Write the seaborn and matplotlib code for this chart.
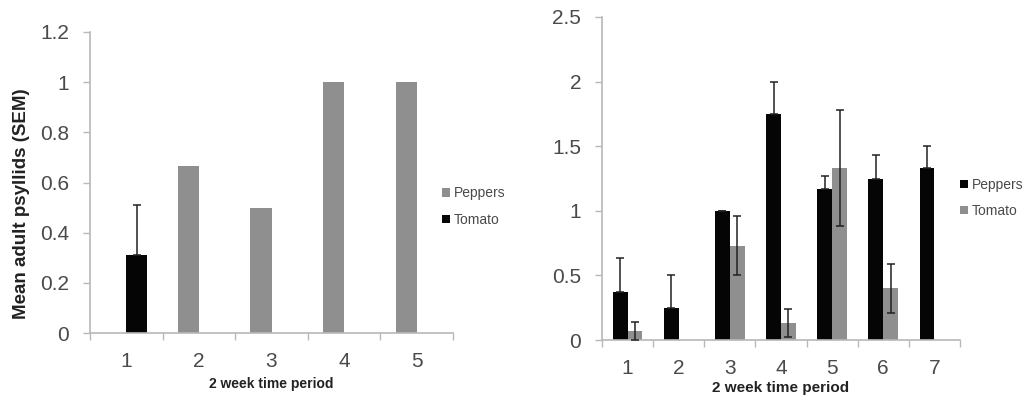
import numpy as np
import pandas as pd
import matplotlib
matplotlib.use("Agg")
import matplotlib.pyplot as plt
from matplotlib.ticker import FixedLocator, FuncFormatter
from matplotlib.colors import to_rgb
import seaborn as sns

# Mean adult psyllids per 2-week period, with SEM
series = ["Peppers", "Tomato"]

left_periods = ["1", "2", "3", "4", "5"]
left_peppers = [0.0, 0.667, 0.5, 1.0, 1.0]
left_peppers_sem = [np.nan, np.nan, np.nan, np.nan, np.nan]
left_tomato = [0.31, 0.0, 0.0, 0.0, 0.0]
left_tomato_sem = [0.2, np.nan, np.nan, np.nan, np.nan]
left_yticks = [0, 0.2, 0.4, 0.6, 0.8, 1.0, 1.2]

right_periods = ["1", "2", "3", "4", "5", "6", "7"]
right_peppers = [0.375, 0.25, 1.0, 1.75, 1.17, 1.25, 1.33]
right_peppers_sem = [0.26, 0.25, 0.0, 0.25, 0.10, 0.18, 0.17]
right_tomato = [0.07, 0.0, 0.73, 0.13, 1.33, 0.40, 0.0]
right_tomato_sem = [0.07, np.nan, 0.23, 0.11, 0.45, 0.19, np.nan]
right_yticks = [0, 0.5, 1.0, 1.5, 2.0, 2.5]

GRAY = "#8f8f8f"
BLACK = "#050505"
AXIS = "#b8b8b8"
TEXT = "#4a4a4a"

sns.set_theme(style="white")
plt.rcParams["font.family"] = ["Liberation Sans", "DejaVu Sans"]


def draw_panel(ax, periods, peppers, peppers_sem, tomato, tomato_sem,
               palette, yticks, ylabel, legend_x, legend_y, xlabel_size,
               xlabel_pad):
    df = pd.DataFrame({
        "period": periods * 2,
        "value": list(peppers) + list(tomato),
        "sem": list(peppers_sem) + list(tomato_sem),
        "series": [series[0]] * len(periods) + [series[1]] * len(periods),
    })
    sns.barplot(data=df, x="period", y="value", hue="series", order=periods,
                hue_order=series, palette=palette, width=0.58, saturation=1,
                errorbar=None, linewidth=0, ax=ax)

    # error bars placed on the bar centres computed by seaborn;
    # on dark bars only the upper arm shows
    for cont, name in zip(ax.containers, series):
        sub = df[df["series"] == name].reset_index(drop=True)
        dark = sum(to_rgb(palette[name])) < 0.5
        for patch, (_, row) in zip(cont.patches, sub.iterrows()):
            if np.isnan(row["sem"]) or row["value"] <= 0:
                continue
            xc = patch.get_x() + patch.get_width() / 2
            yerr = [[0.0], [row["sem"]]] if dark else row["sem"]
            ax.errorbar(xc, row["value"], yerr=yerr, fmt="none",
                        ecolor="#222222", elinewidth=1.1, capsize=3.2,
                        capthick=1.1, zorder=5)

    n = len(periods)
    ax.set_xlim(-0.5, n - 0.5)
    ax.set_ylim(0, yticks[-1])
    ax.yaxis.set_major_locator(FixedLocator(yticks))
    ax.yaxis.set_major_formatter(FuncFormatter(lambda v, _: f"{v:g}"))
    ax.xaxis.set_minor_locator(FixedLocator(np.arange(-0.5, n, 1.0)))
    ax.tick_params(axis="x", which="major", length=0, pad=14,
                   labelsize=15, labelcolor=TEXT)
    ax.tick_params(axis="x", which="minor", length=5, width=1, color=AXIS,
                   direction="out", bottom=True)
    ax.tick_params(axis="y", length=5, width=1, color=AXIS, direction="out",
                   left=True, labelsize=15, labelcolor=TEXT, pad=10)
    for side in ("top", "right"):
        ax.spines[side].set_visible(False)
    for side in ("left", "bottom"):
        ax.spines[side].set_color(AXIS)
        ax.spines[side].set_linewidth(1.2)

    ax.set_xlabel("2 week time period", fontsize=xlabel_size,
                  fontweight="bold", color="#222222", labelpad=xlabel_pad)
    ax.set_ylabel(ylabel, fontsize=13.5, fontweight="bold", color="#222222")
    ax.yaxis.set_label_coords(-0.165, 0.43)

    leg = ax.legend(loc="center left", bbox_to_anchor=(legend_x, legend_y),
                    frameon=False, fontsize=10, handlelength=0.55,
                    handleheight=0.55, handletextpad=0.3, labelspacing=0.9,
                    borderaxespad=0)
    for t in leg.get_texts():
        t.set_color(TEXT)


fig = plt.figure(figsize=(10.24, 3.98), dpi=100)
ax_left = fig.add_axes([0.0879, 0.1633, 0.3545, 0.7563])
ax_right = fig.add_axes([0.5879, 0.1457, 0.3496, 0.8116])

draw_panel(ax_left, left_periods, left_peppers, left_peppers_sem,
           left_tomato, left_tomato_sem, {"Peppers": GRAY, "Tomato": BLACK},
           left_yticks, "Mean adult psyllids (SEM)", 0.955, 0.42, 10, 4)
draw_panel(ax_right, right_periods, right_peppers, right_peppers_sem,
           right_tomato, right_tomato_sem, {"Peppers": BLACK, "Tomato": GRAY},
           right_yticks, "", 0.985, 0.44, 11, 2)

fig.savefig("out.png", dpi=100)
